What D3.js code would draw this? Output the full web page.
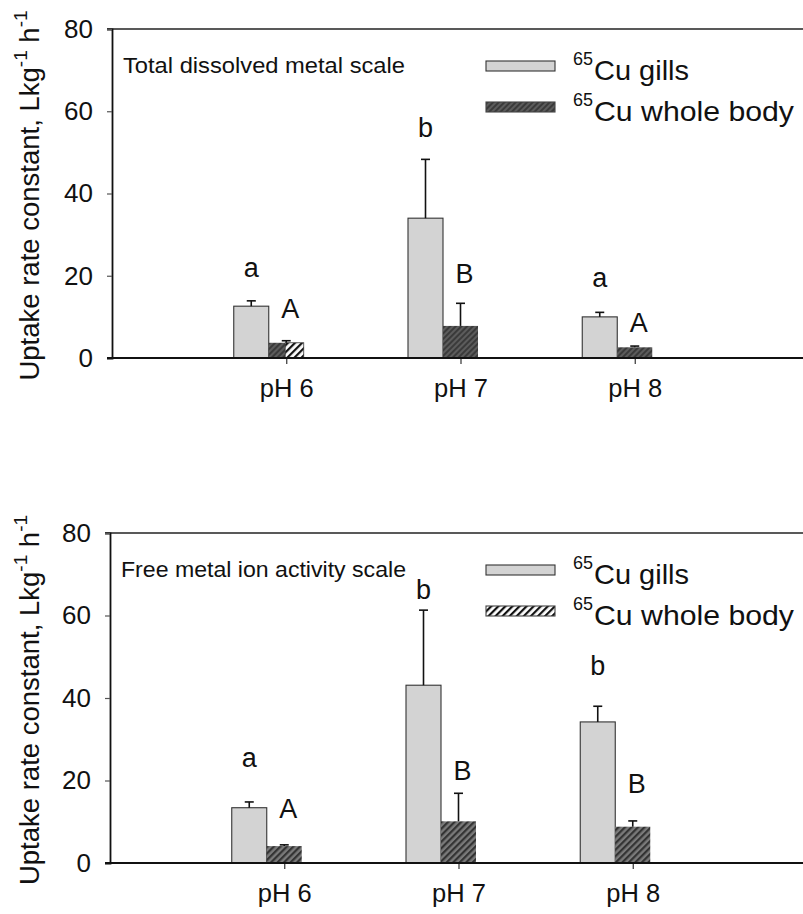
<!DOCTYPE html>
<html>
<head>
<meta charset="utf-8">
<script src="https://cdn.jsdelivr.net/npm/d3@7"></script>
<style>
  html, body { margin: 0; padding: 0; background: #fff; }
  svg { display: block; font-family: "Liberation Sans", Arial, sans-serif; }
</style>
</head>
<body>
<svg id="chart" width="803" height="914"></svg>
<script>
// Categories, series and tick labels
const categories = ["pH 6", "pH 7", "pH 8"];
const seriesNames = ["gills", "whole body"];
const yTicks = [0, 20, 40, 60, 80];

// Total dissolved metal scale (L kg-1 h-1), mean and +SE
const totalGills = [12.6, 34.0, 10.0];
const totalGillsErr = [1.3, 14.3, 1.1];
const totalBody = [3.7, 7.8, 2.6];
const totalBodyErr = [0.5, 5.5, 0.3];
const totalGillsLetters = ["a", "b", "a"];
const totalBodyLetters = ["A", "B", "A"];
const totalGillsLetterAt = [19.7, 53.7, 17.3];
const totalBodyLetterAt = [9.7, 18.2, 6.3];

// Free metal ion activity scale (L kg-1 h-1), mean and +SE
const freeGills = [13.4, 43.1, 34.2];
const freeGillsErr = [1.4, 18.2, 3.8];
const freeBody = [4.1, 10.1, 8.8];
const freeBodyErr = [0.3, 6.8, 1.4];
const freeGillsLetters = ["a", "b", "b"];
const freeBodyLetters = ["A", "B", "B"];
const freeGillsLetterAt = [23.3, 64.0, 45.5];
const freeBodyLetterAt = [10.9, 20.2, 17.0];

const svg = d3.select("#chart");
const defs = svg.append("defs");

// Hatch fills for the whole-body bars
function hatch(id, bg, fg, w, size) {
  const p = defs.append("pattern")
    .attr("id", id).attr("patternUnits", "userSpaceOnUse")
    .attr("width", size).attr("height", size)
    .attr("patternTransform", "rotate(45)");
  p.append("rect").attr("width", size).attr("height", size).attr("fill", bg);
  p.append("rect").attr("width", w).attr("height", size).attr("fill", fg);
}
hatch("hatchDark", "#5c5c5c", "#3a3a3a", 2, 4);
hatch("hatchMid", "#7a7a7a", "#333", 2.2, 4.6);
hatch("hatchOpen", "#fff", "#111", 2.2, 5);

const panels = [
  {
    label: "Total dissolved metal scale", labelLen: 282,
    left: 112, top: 29, bottom: 358,
    gills: totalGills, gillsErr: totalGillsErr, body: totalBody, bodyErr: totalBodyErr,
    gL: totalGillsLetters, bL: totalBodyLetters, gAt: totalGillsLetterAt, bAt: totalBodyLetterAt,
    bodyFill: "url(#hatchDark)", legendBodyFill: "url(#hatchDark)", openHalf: 0
  },
  {
    label: "Free metal ion activity scale", labelLen: 285,
    left: 110, top: 533, bottom: 863,
    gills: freeGills, gillsErr: freeGillsErr, body: freeBody, bodyErr: freeBodyErr,
    gL: freeGillsLetters, bL: freeBodyLetters, gAt: freeGillsLetterAt, bAt: freeBodyLetterAt,
    bodyFill: "url(#hatchMid)", legendBodyFill: "url(#hatchOpen)", openHalf: -1
  }
];

panels.forEach(p => {
  const g = svg.append("g");
  const x = d3.scalePoint().domain(categories).range([p.left, p.left + 697]).padding(1);
  const y = d3.scaleLinear().domain([0, 80]).range([p.bottom, p.top]);
  const inner = d3.scaleBand().domain(seriesNames).range([-52.5, 17.5]);
  const bw = inner.bandwidth();

  // frame: top line and left axis
  g.append("line").attr("x1", p.left - 5).attr("x2", 803)
    .attr("y1", p.top).attr("y2", p.top).attr("stroke", "#222").attr("stroke-width", 1.6);

  const yAxis = d3.axisLeft(y).tickValues(yTicks).tickSize(5).tickPadding(14);
  const ya = g.append("g").attr("transform", `translate(${p.left},0)`).call(yAxis);
  ya.select(".domain").attr("stroke", "#111").attr("stroke-width", 1.8);
  ya.selectAll(".tick line").attr("stroke", "#555").attr("stroke-width", 1.2);
  ya.selectAll(".tick text").attr("font-size", 26).attr("fill", "#111")
    .attr("font-family", "Liberation Sans, Arial, sans-serif");

  // y axis title
  const yt = g.append("text")
    .attr("transform", `translate(39,${(p.top + p.bottom) / 2 + 2}) rotate(-90)`)
    .attr("text-anchor", "middle").attr("font-size", 27.5).attr("fill", "#111");
  yt.append("tspan").text("Uptake rate constant, Lkg");
  yt.append("tspan").attr("font-size", 19).attr("dy", -12).text("-1");
  yt.append("tspan").attr("dy", 12).text(" h");
  yt.append("tspan").attr("font-size", 19).attr("dy", -12).text("-1");

  // bars
  const gillsX = c => x(c) + inner("gills");
  const bodyX = c => x(c) + inner("whole body");

  g.selectAll(".gbar").data(categories).join("rect")
    .attr("x", c => gillsX(c)).attr("width", bw)
    .attr("y", (c, i) => y(p.gills[i])).attr("height", (c, i) => y(0) - y(p.gills[i]))
    .attr("fill", "#d3d3d3").attr("stroke", "#333").attr("stroke-width", 1.1);

  g.selectAll(".bbar").data(categories).join("rect")
    .attr("x", c => bodyX(c)).attr("width", bw)
    .attr("y", (c, i) => y(p.body[i])).attr("height", (c, i) => y(0) - y(p.body[i]))
    .attr("fill", p.bodyFill);

  // the first bar of the upper panel is partly drawn in the open hatch
  if (p.openHalf >= 0) {
    const c = categories[p.openHalf], i = p.openHalf;
    g.append("rect")
      .attr("x", bodyX(c) + bw * 0.47).attr("width", bw * 0.53)
      .attr("y", y(p.body[i])).attr("height", y(0) - y(p.body[i]))
      .attr("fill", "url(#hatchOpen)").attr("stroke", "#444").attr("stroke-width", 0.8);
  }

  // error bars (upper only)
  function errBars(vals, errs, cx) {
    categories.forEach((c, i) => {
      const xc = cx(c) + bw / 2;
      g.append("line").attr("x1", xc).attr("x2", xc)
        .attr("y1", y(vals[i])).attr("y2", y(vals[i] + errs[i]))
        .attr("stroke", "#111").attr("stroke-width", 1.6);
      g.append("line").attr("x1", xc - 4.5).attr("x2", xc + 4.5)
        .attr("y1", y(vals[i] + errs[i])).attr("y2", y(vals[i] + errs[i]))
        .attr("stroke", "#111").attr("stroke-width", 1.6);
    });
  }
  errBars(p.gills, p.gillsErr, gillsX);
  errBars(p.body, p.bodyErr, bodyX);

  // x axis
  const xAxis = d3.axisBottom(x).tickSize(6).tickPadding(15);
  const xa = g.append("g").attr("transform", `translate(0,${p.bottom})`).call(xAxis);
  xa.select(".domain").remove();
  g.append("line").attr("x1", p.left - 5).attr("x2", 803)
    .attr("y1", p.bottom).attr("y2", p.bottom).attr("stroke", "#111").attr("stroke-width", 1.8);
  xa.selectAll(".tick line").attr("stroke", "#333").attr("stroke-width", 1.2);
  xa.selectAll(".tick text").attr("font-size", 25.5).attr("fill", "#111")
    .attr("font-family", "Liberation Sans, Arial, sans-serif");

  // significance letters
  categories.forEach((c, i) => {
    g.append("text").attr("x", gillsX(c) + bw / 2).attr("y", y(p.gAt[i]))
      .attr("text-anchor", "middle").attr("font-size", 27).attr("fill", "#111").text(p.gL[i]);
    g.append("text").attr("x", bodyX(c) + bw / 2 + 4).attr("y", y(p.bAt[i]))
      .attr("text-anchor", "middle").attr("font-size", 27).attr("fill", "#111").text(p.bL[i]);
  });

  // panel label
  g.append("text").attr("x", p.left + 11).attr("y", p.top + 44)
    .attr("font-size", 22.5).attr("fill", "#111")
    .attr("textLength", p.labelLen).attr("lengthAdjust", "spacingAndGlyphs")
    .text(p.label);

  // legend
  const lx = 486, ly = p.top + 32;
  const legendRows = [
    { fill: "#d3d3d3", stroke: "#333", text: "Cu gills", len: 95 },
    { fill: p.legendBodyFill, stroke: "#444", text: "Cu whole body", len: 200 }
  ];
  legendRows.forEach((r, k) => {
    const yy = ly + k * 41;
    g.append("text").attr("x", lx + 87).attr("y", yy + 4)
      .attr("font-size", 18).attr("fill", "#111").text("65");
    g.append("rect").attr("x", lx).attr("y", yy).attr("width", 69).attr("height", 10)
      .attr("fill", r.fill).attr("stroke", r.stroke).attr("stroke-width", 1.1);
    g.append("text").attr("x", lx + 108).attr("y", yy + 19)
      .attr("font-size", 28.5).attr("fill", "#111")
      .attr("textLength", r.len).attr("lengthAdjust", "spacingAndGlyphs")
      .text(r.text);
  });
});
</script>
</body>
</html>
